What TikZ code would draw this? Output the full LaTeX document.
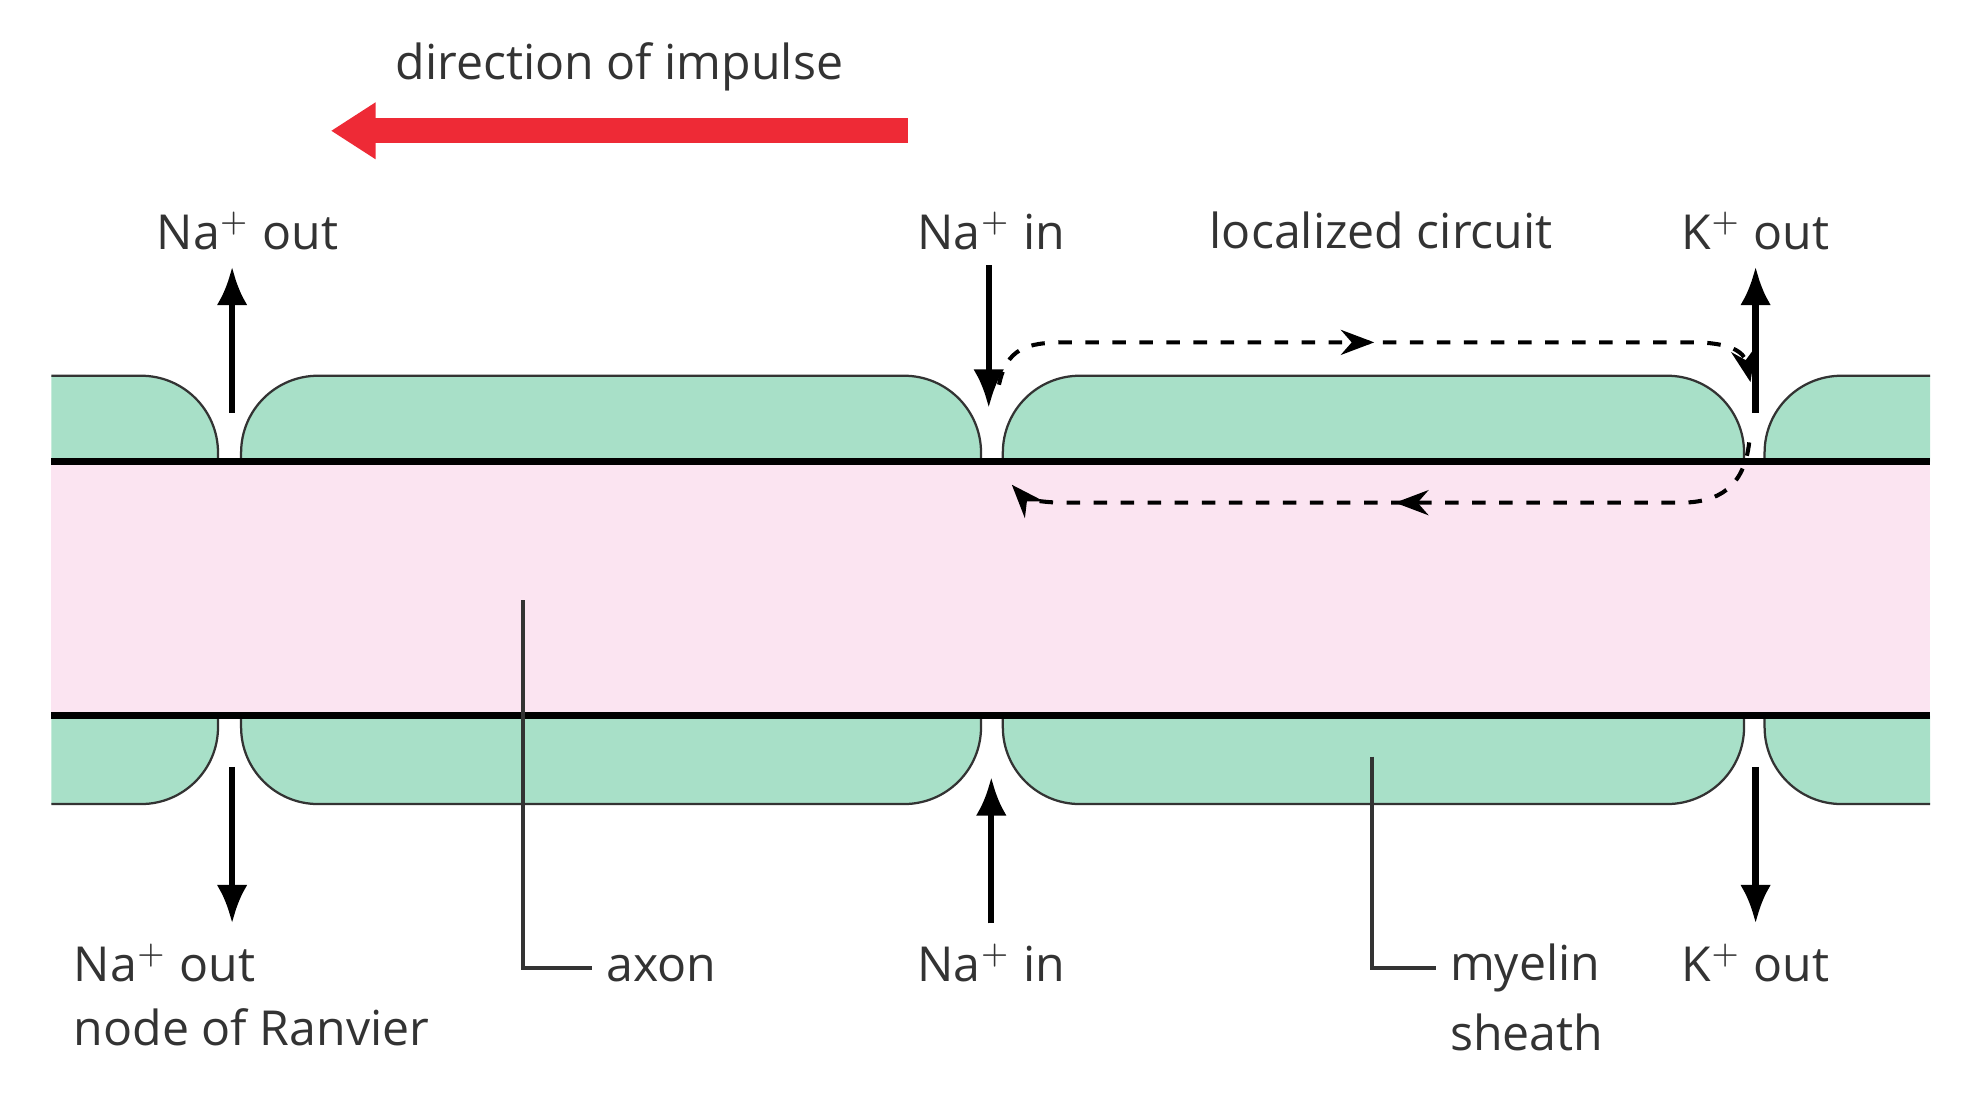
\documentclass[tikz,border=0pt]{standalone}
\usepackage{fontspec}
\setmainfont{Open Sans}
\usetikzlibrary{arrows.meta, decorations.markings}
\definecolor{myelingreen}{HTML}{A8E0C8}
\definecolor{axonpink}{HTML}{FBE4F1}
\definecolor{impulsered}{HTML}{EE2A36}
\definecolor{textgray}{HTML}{333333}

\begin{document}
\begin{tikzpicture}[
        x=0.1mm, y=-0.1mm,
        lbl/.style={
            text=textgray,
            font=\fontsize{10.7}{13}\selectfont,
            inner sep=0pt,
        },
        sheath/.style={
            fill=myelingreen,
            draw=black!80,
            line width=0.5pt,
        },
        ion/.style={
            -{Latex[length=3mm, width=2.4mm]},
            line width=1.4pt,
        },
        circuit/.style={
            dashed,
            line width=0.9pt,
            -{Stealth[length=2.6mm]},
            postaction={decorate},
            decoration={markings,
                mark=at position 0.5 with {\arrow{Stealth[length=2.6mm]}}},
        },
        leader/.style={
            line width=0.8pt,
            draw=textgray,
        },
    ]
    \useasboundingbox (0,0) rectangle (1544,852);

    % axon
    \fill[axonpink] (40,360) rectangle (1505,558);

    % myelin segments, clipped at both ends
    \begin{scope}
        \clip (40,250) rectangle (1505,680);
        \foreach \a/\b in {-400/170, 188/765, 782/1360, 1376/1950} {
            \draw[sheath, rounded corners=6mm] (\a,360) |- ({(\a+\b)/2},293) -| (\b,360);
            \draw[sheath, rounded corners=6mm] (\a,558) |- ({(\a+\b)/2},627) -| (\b,558);
        }
    \end{scope}

    % membrane lines
    \draw[line width=1.6pt] (40,360) -- (1505,360);
    \draw[line width=1.6pt] (40,558) -- (1505,558);

    % labels
    \node[lbl] (title) at (483,52) {direction of impulse};
    \node[lbl] (naOutT) at (193,180) {Na$^{+}$ out};
    \node[lbl] (naInT) at (773,180) {Na$^{+}$ in};
    \node[lbl] (local) at (1077,180) {localized circuit};
    \node[lbl] (kOutT) at (1369,180) {K$^{+}$ out};
    \node[lbl, anchor=west] (naOutB) at (57,751) {Na$^{+}$ out};
    \node[lbl, anchor=west] (ranvier) at (57,801) {node of Ranvier};
    \node[lbl] (naInB) at (773,751) {Na$^{+}$ in};
    \node[lbl] (kOutB) at (1369,751) {K$^{+}$ out};
    \node[lbl, anchor=west] (axon) at (472,755) {axon};
    \node[lbl, anchor=west] (myelin) at (1130,755) {myelin};
    \node[lbl, anchor=west] (sheathL) at (1130,805) {sheath};

    % impulse arrow
    \coordinate (redA) at (708,102);
    \coordinate (redB) at (258,102);
    \draw[impulsered, line width=5.5pt, -{Triangle[length=3.5mm, width=4.2mm]}] (redA) -- (redB);

    % ion flows
    \coordinate (g1t) at (181,322);
    \coordinate (g1b) at (181,598);
    \coordinate (g2t) at (771,318);
    \coordinate (g2b) at (773,606);
    \coordinate (g3t) at (1369,322);
    \coordinate (g3b) at (1369,598);
    \draw[ion] (g1t) -- (g1t |- 0,208);
    \draw[ion] (g2t |- 0,207) -- (g2t);
    \draw[ion] (g3t) -- (g3t |- 0,208);
    \draw[ion] (g1b) -- (g1b |- 0,720);
    \draw[ion] (g2b |- 0,720) -- (g2b);
    \draw[ion] (g3b) -- (g3b |- 0,720);

    % localized circuit
    \coordinate (c1) at (779,300);
    \coordinate (c2) at (1365,298);
    \coordinate (c3) at (1364,345);
    \coordinate (c4) at (789,378);
    \draw[circuit] (c1) .. controls (785,272) and (800,267) .. (830,267)
        -- (1320,267) .. controls (1350,267) and (1360,275) .. (c2);
    \draw[circuit] (c3) .. controls (1360,380) and (1340,392) .. (1310,392)
        -- (830,392) .. controls (810,392) and (798,388) .. (c4);

    % leaders
    \coordinate (axonTip) at (408,468);
    \coordinate (myelinTip) at (1070,590);
    \draw[leader] (axonTip) |- ([xshift=-1mm] axon.west);
    \draw[leader] (myelinTip) |- ([xshift=-1mm] myelin.west);
\end{tikzpicture}
\end{document}
